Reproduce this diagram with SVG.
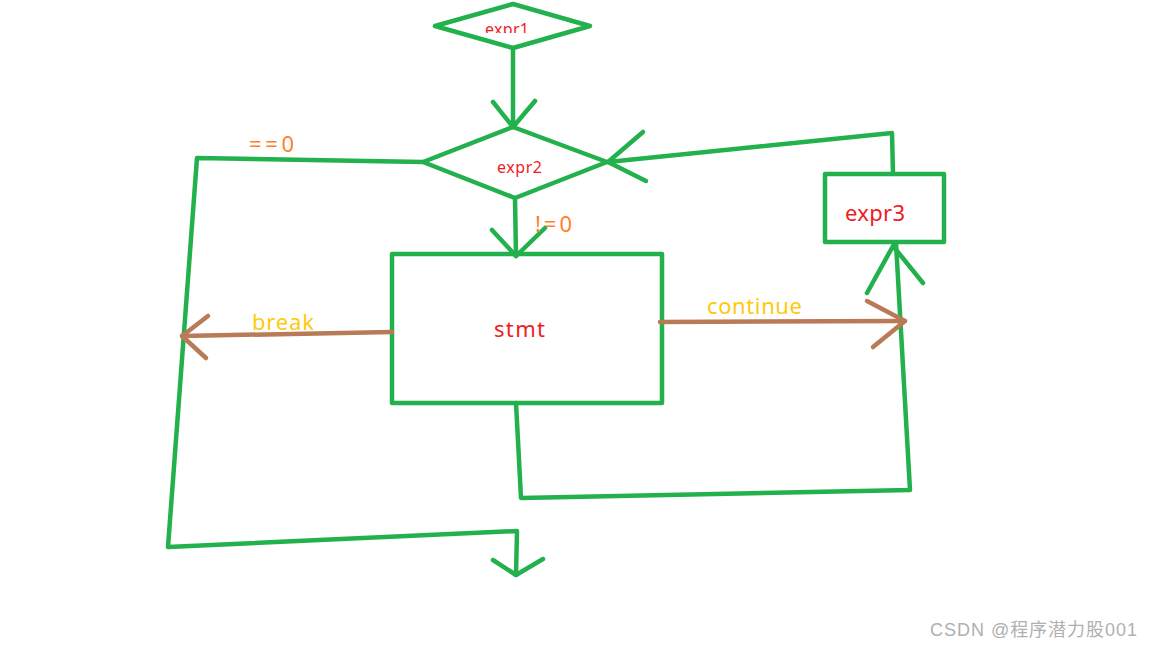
<svg xmlns="http://www.w3.org/2000/svg" width="1152" height="648" viewBox="0 0 1152 648">
<style>
.g{fill:none;stroke:#22b14c;stroke-width:4.5;stroke-linecap:round;stroke-linejoin:round}
.b{fill:none;stroke:#b97a57;stroke-width:4.5;stroke-linecap:round;stroke-linejoin:round}
text{font-family:"Microsoft YaHei","Noto Sans","Liberation Sans",sans-serif}
.red{fill:#ed1c24}
.org{fill:#ff7f27}
.yel{fill:#ffc90e}
</style>
<defs>
<clipPath id="c1"><rect x="470" y="10" width="80" height="23"/></clipPath>
</defs>
<rect width="1152" height="648" fill="#ffffff"/>
<g id="expr1">
<polygon class="g" points="435,26 513,4 590,26 513,48"/>
<text class="red" x="485" y="35" font-size="16" clip-path="url(#c1)" textLength="44">expr1</text>
</g>
<g id="expr2">
<polygon class="g" points="423,162 513,127 607,162 515,198"/>
<text class="red" x="497" y="173" font-size="16" textLength="45">expr2</text>
</g>
<g id="stmt">
<rect class="g" x="392" y="254" width="270" height="149"/>
<text class="red" x="494" y="337" font-size="22" textLength="51">stmt</text>
</g>
<g id="expr3">
<rect class="g" x="825" y="174" width="119" height="68"/>
<text class="red" x="845" y="221" font-size="22" textLength="60">expr3</text>
</g>
<g id="connectors">
<polyline class="g" points="513,48 513,127"/>
<polyline class="g" points="493,102 513,127 535,101"/>
<polyline class="g" points="515,198 516,256"/>
<polyline class="g" points="492,230 516,256 545,228"/>
<polyline class="g" points="423,162 197,158 168,547 517,531 516,575"/>
<polyline class="g" points="493,560 516,575 543,559"/>
<polyline class="g" points="516,403 521,498 910,490 896,243"/>
<polyline class="g" points="867,293 893,246 923,283"/>
<polyline class="g" points="893,174 892,133 608,162"/>
<polyline class="g" points="643,132 608,162 646,181"/>
<polyline class="b" points="392,332 182,336"/>
<polyline class="b" points="208,316 182,336 206,358"/>
<polyline class="b" points="660,322 905,321"/>
<polyline class="b" points="867,301 905,321 873,347"/>
<text class="org" x="249" y="152" font-size="22" textLength="45">==0</text>
<text class="org" x="535" y="232" font-size="22" textLength="37">!=0</text>
<text class="yel" x="252" y="330" font-size="22" textLength="62">break</text>
<text class="yel" x="707" y="314" font-size="22" textLength="95">continue</text>
</g>
<text x="930" y="636" font-size="18" fill="#b0b0b0" textLength="207" style="font-family:'Liberation Sans','Noto Sans CJK SC',sans-serif">CSDN @程序潜力股001</text>
</svg>
